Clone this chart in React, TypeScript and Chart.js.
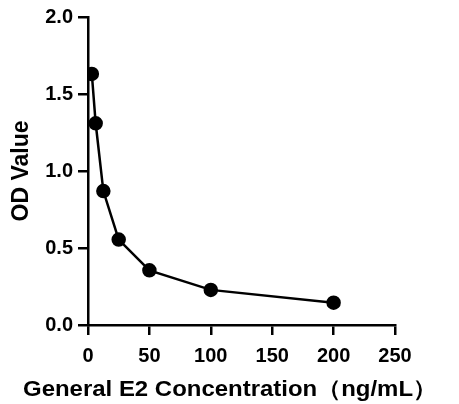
import React, { useEffect, useRef } from "react";
import { Chart, registerables } from "chart.js";

Chart.register(...registerables);

const concentrations = [3.125, 6.25, 12.5, 25, 50, 100, 200];
const odValues = [1.63, 1.31, 0.87, 0.555, 0.355, 0.228, 0.145];
const xTicks = [0, 50, 100, 150, 200, 250];
const yTicks = [0, 0.5, 1.0, 1.5, 2.0];
const xTitle = "General E2 Concentration（ng/mL）";
const yTitle = "OD Value";

const FONT = "'Liberation Sans', Arial, sans-serif";

const xTitlePlugin = {
  id: "xTitlePlugin",
  afterDraw(chart: any) {
    const ctx = chart.ctx;
    ctx.save();
    ctx.font = `bold 22px ${FONT}`;
    ctx.fillStyle = "#000";
    ctx.textAlign = "center";
    ctx.textBaseline = "middle";
    const w = ctx.measureText(xTitle).width;
    const target = 414;
    const sx = target / w;
    ctx.translate(230, 390);
    ctx.scale(sx, 1);
    ctx.fillText(xTitle, 0, 0);
    ctx.restore();
  },
};

export default function App() {
  const ref = useRef<HTMLCanvasElement>(null);
  useEffect(() => {
    if (!ref.current) return;
    const chart = new Chart(ref.current, {
      type: "scatter",
      data: {
        datasets: [
          {
            data: concentrations.map((x, i) => ({ x, y: odValues[i] })),
            showLine: true,
            borderColor: "#000",
            backgroundColor: "#000",
            borderWidth: 2.5,
            pointRadius: 6,
            pointHoverRadius: 6,
            tension: 0,
          },
        ],
      },
      plugins: [xTitlePlugin],
      options: {
        responsive: false,
        animation: false,
        plugins: { legend: { display: false }, tooltip: { enabled: false } },
        layout: { padding: { top: 12, right: 64, left: 8, bottom: 0 } },
        scales: {
          x: {
            type: "linear",
            min: 0,
            max: 250,
            afterBuildTicks: (s: any) => {
              s.ticks = xTicks.map((v) => ({ value: v }));
            },
            afterFit: (s: any) => {
              s.height = 79;
            },
            border: { display: true, color: "#000", width: 2.5 },
            grid: { display: true, drawOnChartArea: false, drawTicks: true, tickLength: 10, color: "#000", lineWidth: 2.5 },
            ticks: { color: "#000", font: { family: FONT, size: 20, weight: "bold" }, padding: 9, maxRotation: 0 },
            title: { display: false },
          },
          y: {
            type: "linear",
            min: 0,
            max: 2,
            afterBuildTicks: (s: any) => {
              s.ticks = yTicks.map((v) => ({ value: v }));
            },
            afterFit: (s: any) => {
              s.width = 80;
            },
            border: { display: true, color: "#000", width: 2.5 },
            grid: { display: true, drawOnChartArea: false, drawTicks: true, tickLength: 10, color: "#000", lineWidth: 2.5 },
            ticks: {
              color: "#000",
              font: { family: FONT, size: 20, weight: "bold" },
              padding: 5,
              callback: (v: any) => Number(v).toFixed(1),
            },
            title: {
              display: true,
              text: yTitle,
              color: "#000",
              font: { family: FONT, size: 23, weight: "bold" },
              padding: { top: 0, bottom: 2 },
            },
          },
        },
      },
    });
    return () => chart.destroy();
  }, []);
  return (
    <div style={{ position: "fixed", left: 0, top: 0, width: 459, height: 404, background: "#fff" }}>
      <canvas ref={ref} width={459} height={404} />
    </div>
  );
}
